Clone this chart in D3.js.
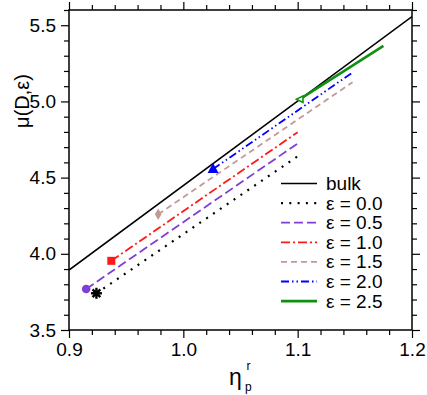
<!DOCTYPE html>
<html><head><meta charset="utf-8">
<script src="https://cdn.jsdelivr.net/npm/d3@7"></script>
<style>
body{margin:0;background:#fff;}
text{font-family:"Liberation Sans",Arial,Helvetica,sans-serif;}
</style></head>
<body><svg id="c" width="427" height="395"></svg>
<script>
const xMajor = [0.9, 1.0, 1.1, 1.2];
const yMajor = [3.5, 4.0, 4.5, 5.0, 5.5];
const xDomain = [0.9, 1.2];
const yDomain = [3.5, 5.6];

const seriesNames = ["bulk", "ε = 0.0", "ε = 0.5", "ε = 1.0", "ε = 1.5", "ε = 2.0", "ε = 2.5"];
const bulkX = [0.9, 1.2];
const bulkY = [3.893, 5.557];
const eps00X = [0.924, 1.1];
const eps00Y = [3.741, 4.640];
const eps05X = [0.915, 1.1];
const eps05Y = [3.769, 4.724];
const eps10X = [0.937, 1.1];
const eps10Y = [3.954, 4.798];
const eps15X = [0.978, 1.148];
const eps15Y = [4.259, 5.126];
const eps20X = [1.026, 1.148];
const eps20Y = [4.556, 5.190];
const eps25X = [1.102, 1.175];
const eps25Y = [5.015, 5.364];

const styles = [
  {color:"#000000", dash:null, w:1.6, marker:null},
  {color:"#000000", dash:"2,6.3", w:2.2, marker:"asterisk"},
  {color:"#7f3fd6", dash:"9,4", w:1.8, marker:"circle"},
  {color:"#ff1a1a", dash:"9,3,2,3", w:1.8, marker:"square"},
  {color:"#c09a96", dash:"6,4", w:1.8, marker:"diamond"},
  {color:"#0000ff", dash:"8,3,1.5,3,1.5,3", w:1.8, marker:"triangle"},
  {color:"#109010", dash:null, w:2.6, marker:"triLeft"}
];
const xs = [bulkX, eps00X, eps05X, eps10X, eps15X, eps20X, eps25X];
const ys = [bulkY, eps00Y, eps05Y, eps10Y, eps15Y, eps20Y, eps25Y];

const L = 69, R = 412, T = 10, B = 330;
const svg = d3.select("#c");
const x = d3.scaleLinear().domain(xDomain).range([L, R]);
const y = d3.scaleLinear().domain(yDomain).range([B, T]);

const xMinor = d3.range(0, 16).map(i => +(0.9 + i*0.02).toFixed(3)).filter(v => !xMajor.some(m => Math.abs(m-v)<1e-6));
const yMinor = d3.range(0, 22).map(i => +(3.5 + i*0.1).toFixed(3)).filter(v => !yMajor.some(m => Math.abs(m-v)<1e-6));

function styleAxis(g){
  g.select(".domain").remove();
  g.selectAll("line").attr("stroke","#000").attr("stroke-width",1.2);
  g.selectAll("text").attr("font-size","19px").attr("fill","#000");
}
// bottom
svg.append("g").attr("transform",`translate(0,${B})`).call(d3.axisBottom(x).tickValues(xMajor).tickSize(8).tickPadding(5).tickFormat(d3.format(".1f"))).call(styleAxis);
svg.append("g").attr("transform",`translate(0,${B})`).call(d3.axisBottom(x).tickValues(xMinor).tickSize(5).tickFormat("")).call(styleAxis);
// top
svg.append("g").attr("transform",`translate(0,${T})`).call(d3.axisTop(x).tickValues(xMajor).tickSize(8).tickFormat("")).call(styleAxis);
svg.append("g").attr("transform",`translate(0,${T})`).call(d3.axisTop(x).tickValues(xMinor).tickSize(5).tickFormat("")).call(styleAxis);
// left
svg.append("g").attr("transform",`translate(${L},0)`).call(d3.axisLeft(y).tickValues(yMajor).tickSize(8).tickPadding(5).tickFormat(d3.format(".1f"))).call(styleAxis);
svg.append("g").attr("transform",`translate(${L},0)`).call(d3.axisLeft(y).tickValues(yMinor).tickSize(5).tickFormat("")).call(styleAxis);
// right
svg.append("g").attr("transform",`translate(${R},0)`).call(d3.axisRight(y).tickValues(yMajor).tickSize(8).tickFormat("")).call(styleAxis);
svg.append("g").attr("transform",`translate(${R},0)`).call(d3.axisRight(y).tickValues(yMinor).tickSize(5).tickFormat("")).call(styleAxis);

// frame
svg.append("rect").attr("x",L).attr("y",T).attr("width",R-L).attr("height",B-T)
  .attr("fill","none").attr("stroke","#000").attr("stroke-width",1.5);

svg.append("clipPath").attr("id","clp").append("rect").attr("x",L).attr("y",T).attr("width",R-L).attr("height",B-T);
const plot = svg.append("g").attr("clip-path","url(#clp)");
const line = d3.line().x(d=>x(d[0])).y(d=>y(d[1]));

function drawMarker(g, kind, cx, cy, color){
  if(kind==="asterisk"){
    const r=5.5;
    for(let a=0;a<4;a++){
      const t=a*Math.PI/4;
      g.append("line").attr("x1",cx-r*Math.cos(t)).attr("y1",cy-r*Math.sin(t))
       .attr("x2",cx+r*Math.cos(t)).attr("y2",cy+r*Math.sin(t))
       .attr("stroke",color).attr("stroke-width",2.4);
    }
    g.append("circle").attr("cx",cx).attr("cy",cy).attr("r",3).attr("fill",color);
  } else if(kind==="circle"){
    g.append("circle").attr("cx",cx).attr("cy",cy).attr("r",4.3).attr("fill",color);
  } else if(kind==="square"){
    g.append("rect").attr("x",cx-4).attr("y",cy-4).attr("width",8).attr("height",8).attr("fill",color);
  } else if(kind==="diamond"){
    g.append("path").attr("d",d3.symbol().type(d3.symbolDiamond).size(38)()).attr("transform",`translate(${cx},${cy})`).attr("fill",color);
  } else if(kind==="triangle"){
    g.append("path").attr("d",`M${cx},${cy-6}L${cx+5.5},${cy+4}L${cx-5.5},${cy+4}Z`).attr("fill",color);
  } else if(kind==="triLeft"){
    g.append("path").attr("d",`M${cx-3.5},${cy}L${cx+3},${cy-3.2}L${cx+3},${cy+3.2}Z`).attr("fill","#fff").attr("stroke",color).attr("stroke-width",1.6);
  }
}

for(let i=0;i<xs.length;i++){
  const pts = xs[i].map((v,j)=>[v, ys[i][j]]);
  const s = styles[i];
  const p = plot.append("path").datum(pts).attr("d",line).attr("fill","none")
    .attr("stroke",s.color).attr("stroke-width",s.w);
  if(s.dash) p.attr("stroke-dasharray",s.dash);
}
for(let i=0;i<xs.length;i++){
  const s = styles[i];
  if(s.marker) drawMarker(plot, s.marker, x(xs[i][0]), y(ys[i][0]), s.color);
}

// legend
const lg = svg.append("g");
seriesNames.forEach((name,i)=>{
  const yy = 183.5 + i*19.6;
  const s = styles[i];
  const l = lg.append("line").attr("x1",281).attr("x2",317).attr("y1",yy).attr("y2",yy)
    .attr("stroke",s.color).attr("stroke-width",s.w);
  if(s.dash) l.attr("stroke-dasharray",s.dash);
  lg.append("text").attr("x",326).attr("y",yy+6.5).attr("font-size","19px").text(name);
});

// axis titles
svg.append("text").attr("transform","translate(29,101) rotate(-90)").attr("text-anchor","middle")
  .attr("font-size","20px").text("μ(D,ε)");
svg.append("text").attr("x",229).attr("y",385).attr("font-size","23px").text("η");
svg.append("text").attr("x",245).attr("y",391).attr("font-size","12px").text("p");
svg.append("text").attr("x",246.5).attr("y",370).attr("font-size","12px").text("r");
</script></body></html>
